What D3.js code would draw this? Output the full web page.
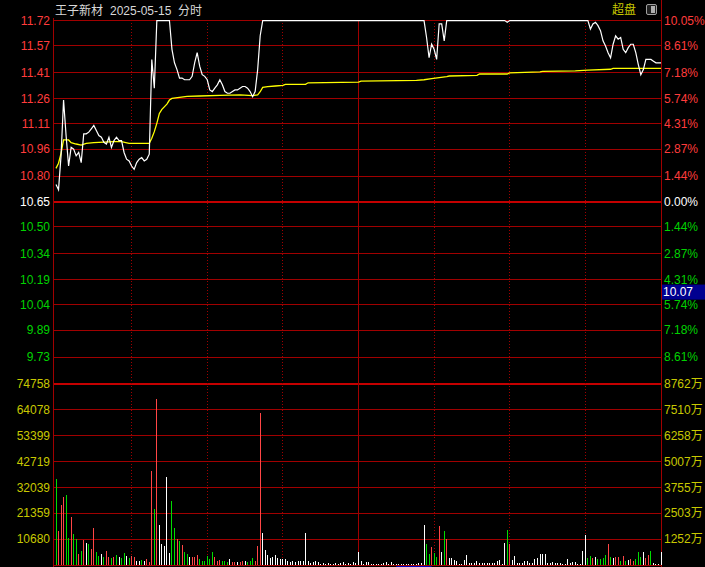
<!DOCTYPE html>
<html><head><meta charset="utf-8">
<script src="https://cdn.jsdelivr.net/npm/d3@7/dist/d3.min.js"></script>
<style>html,body{margin:0;padding:0;background:#000;overflow:hidden}</style>
</head><body><svg id="c" width="705" height="567"></svg>
<script>
// ---------- data ----------
const stockName = "王子新材";
const dateText = "2025-05-15";
const modeText = "分时";
const panelText = "超盘";
const prevClose = 10.65;
const limitPct = 0.1005;
const priceTicks = [11.72, 11.57, 11.41, 11.26, 11.11, 10.96, 10.80, 10.65, 10.50, 10.34, 10.19, 10.04, 9.89, 9.73];
const pctLabels = ["10.05%", "8.61%", "7.18%", "5.74%", "4.31%", "2.87%", "1.44%", "0.00%", "1.44%", "2.87%", "4.31%", "5.74%", "7.18%", "8.61%"];
const volMax = 74758;
const volTicks = [74758, 64078, 53399, 42719, 32039, 21359, 10680];
const amtLabels = ["8762万", "7510万", "6258万", "5007万", "3755万", "2503万", "1252万"];
const timeGrid = [30, 60, 90, 120, 150, 180, 210];
const cursorPrice = 10.07;

// price: [minute, price]
const pricePoints = [[0,10.75],[1,10.72],[2,10.92],[3,11.25],[4,11.04],[5,10.86],[6,10.97],[7,10.96],[8,10.92],[9,10.94],
[10,10.88],[11,11.05],[12,11.05],[13,11.06],[14,11.08],[15,11.10],[16,11.07],[17,11.04],[18,11.03],[19,11.00],
[20,10.99],[21,11.03],[22,10.97],[23,11.01],[24,11.03],[25,11.01],[26,11.01],[27,10.94],[28,10.90],[29,10.89],
[30,10.86],[31,10.84],[32,10.88],[33,10.90],[34,10.91],[35,10.89],[36,10.90],[37,10.93],[38,11.49],[39,11.32],
[40,11.72],[45,11.72],[46,11.55],[47,11.47],[48,11.43],[49,11.38],[50,11.38],[51,11.37],[52,11.37],[53,11.37],
[54,11.39],[55,11.47],[56,11.53],[57,11.45],[58,11.40],[59,11.39],[60,11.37],[61,11.31],[62,11.30],[63,11.32],
[64,11.34],[65,11.37],[66,11.34],[67,11.30],[68,11.29],[69,11.29],[70,11.30],[71,11.31],[72,11.31],[73,11.32],
[74,11.33],[75,11.33],[76,11.32],[77,11.30],[78,11.27],[79,11.30],[80,11.43],[81,11.63],[82,11.72],
[146,11.72],[147,11.62],[148,11.50],[149,11.58],[150,11.55],[151,11.49],[152,11.70],[153,11.70],[154,11.60],[155,11.72],
[178,11.72],[179,11.71],[180,11.72],[211,11.72],[212,11.67],[213,11.70],[214,11.71],[215,11.69],[216,11.66],[217,11.60],
[218,11.57],[219,11.53],[220,11.50],[221,11.58],[222,11.63],[223,11.61],[224,11.62],[225,11.55],[226,11.53],[227,11.56],
[228,11.58],[229,11.58],[230,11.53],[231,11.46],[232,11.40],[233,11.43],[234,11.49],[235,11.49],[236,11.49],[237,11.48],
[238,11.47],[239,11.47],[240,11.47]];

// average price: [minute, price]
const avgPoints = [[0,10.846],[1,10.876],[2,10.935],[3,11.014],[5,11.014],[6,10.998],[8,10.99],[10,10.984],[12,10.994],[15,10.998],
[23,11.004],[26,11.004],[29,10.994],[37,10.994],[38,11.024],[39,11.063],[40,11.112],[41,11.171],[42,11.195],[44,11.226],
[45,11.25],[46,11.26],[52,11.272],[57,11.274],[65,11.278],[73,11.28],[78,11.276],[80,11.28],[81,11.299],[82,11.325],
[84,11.329],[87,11.333],[90,11.337],[91,11.343],[99,11.343],[100,11.352],[120,11.356],[121,11.362],[143,11.366],[146,11.37],
[149,11.376],[152,11.382],[155,11.388],[156,11.392],[167,11.396],[168,11.404],[179,11.404],[180,11.411],[192,11.416],[193,11.42],
[206,11.423],[211,11.427],[220,11.432],[221,11.437],[240,11.437]];

// per-minute volume
const volumes = [
35400,14000,24700,28100,28800,11000,19900,12800,10600,4500,
5800,10300,9200,8600,6500,15100,5200,3800,4500,3400,
5900,3400,3000,3400,4200,3400,3000,4900,3700,2900,
3800,3400,1600,1700,2100,1500,2600,1400,38800,22900,
68500,16500,8600,7800,36400,5100,26500,15400,10600,9900,
8100,5400,4500,3400,3400,3200,4200,2300,1700,1600,
3600,2500,5400,3400,1700,2000,1600,1600,1400,2500,
1400,1400,1100,1400,1500,1600,1100,1600,3000,1600,
8000,62700,13300,6200,4100,2700,3300,4100,2900,2300,
2300,2300,1600,1400,1600,1400,1600,1600,1700,13300,
1650,700,1400,1650,1100,500,700,300,700,300,
300,700,300,950,1400,300,950,300,1100,700,
5500,1650,500,1250,1250,500,500,500,500,500,
950,1250,300,1100,300,300,300,300,300,300,
300,300,300,300,700,700,16500,8500,4400,7500,
4900,3400,16200,5500,14100,10600,2900,2900,2050,1650,
500,500,2050,4100,950,950,950,1650,950,700,
700,950,700,950,700,1650,2050,300,9200,14400,
8500,2050,3700,950,950,950,1650,1650,700,950,
2500,3000,4500,4500,4500,950,950,1100,700,700,
700,300,300,2500,950,1400,1400,300,300,5800,
12400,3000,3700,3000,3400,2500,2500,2900,4100,8600,
3400,2900,3400,3400,1650,3700,1650,2050,2500,1650,
2500,5400,3400,5400,3000,4100,5900,700,300,300,
5400];
// r = up, g = down, w = unchanged
const volColors = (
"grrrggrggr" + "grwgrrggwg" + "rrgrgwggwg" + "rrwwgwrrrg" + "rwwwwwggrg" +
"rggwrrrggg" + "gggrrrgggw" + "rrwrrwgggr" + "rrwwwwwwww" + "wwwwwwwwww" +
"wwwwwwwwww" + "wwwwwwwwww" + "wwwwwwwwww" + "wwwwwwwwww" + "wwwwwwwggr" +
"ggrwgrwwww" + "wwwwwwwwww" + "wwwwwwwwwg" + "rwwwwwwwww" + "wwwwwwwwww" +
"wwwwwwwwww" + "wggrwggggr" + "gwrrgrgwrr" + "gggwrrgwww" + "w").split("");

// ---------- drawing ----------
const svg = d3.select("#c");
const L = 53.5, R = 661.5;
const x = d3.scaleLinear().domain([0, 240]).range([56, 661]);
const yP = d3.scaleLinear().domain([prevClose * (1 - limitPct), prevClose * (1 + limitPct)]).range([382.5, 20.5]);
const yV = d3.scaleLinear().domain([0, volMax]).range([565, 383.5]);
const px = v => Math.round(v - 0.5) + 0.5;

const GRID = "#a00000", THICK = "#c40000";
const RED = "#ff3c3c", GREEN = "#00d200", YEL = "#c8c800", WHITE = "#ffffff";
const FONT = "'Liberation Sans', Arial, 'Noto Sans CJK SC', sans-serif";

svg.append("rect").attr("width", 705).attr("height", 567).attr("fill", "#000");

const g = svg.append("g").attr("shape-rendering", "crispEdges");

// horizontal price grid
priceTicks.forEach((t, i) => {
  const yy = px(yP(t));
  const thick = Math.abs(t - prevClose) < 1e-6;
  g.append("line").attr("x1", L).attr("x2", R).attr("y1", thick ? Math.round(yP(t)) : yy).attr("y2", thick ? Math.round(yP(t)) : yy)
    .attr("stroke", thick ? THICK : GRID).attr("stroke-width", thick ? 2 : 1);
});
// horizontal volume grid
volTicks.forEach((t, i) => {
  const thick = i === 0;
  const yy = thick ? Math.round(yV(t)) : px(yV(t));
  g.append("line").attr("x1", L).attr("x2", R).attr("y1", yy).attr("y2", yy)
    .attr("stroke", thick ? THICK : GRID).attr("stroke-width", thick ? 2 : 1);
});
// bottom line
g.append("line").attr("x1", L).attr("x2", R).attr("y1", 565.5).attr("y2", 565.5).attr("stroke", GRID);

// vertical time grid
timeGrid.forEach(m => {
  const xx = px(x(m));
  g.append("line").attr("x1", xx).attr("x2", xx).attr("y1", 20).attr("y2", 566)
    .attr("stroke", GRID).attr("stroke-dasharray", m === 120 ? null : "1,2");
});
// borders
g.append("line").attr("x1", L).attr("x2", L).attr("y1", 18).attr("y2", 567).attr("stroke", GRID);
g.append("line").attr("x1", R).attr("x2", R).attr("y1", 0).attr("y2", 567).attr("stroke", GRID);

// volume bars
const colMap = { r: "#ff4646", g: "#00dc00", w: "#ffffff" };
svg.append("g").attr("shape-rendering", "crispEdges").selectAll("line").data(volumes).join("line")
  .attr("x1", (d, i) => px(x(i))).attr("x2", (d, i) => px(x(i)))
  .attr("y1", yV(0)).attr("y2", d => yV(d))
  .attr("stroke", (d, i) => colMap[volColors[i]]).attr("stroke-width", 1);

// avg line
svg.append("path").datum(avgPoints)
  .attr("d", d3.line().x(d => x(d[0])).y(d => yP(d[1])))
  .attr("fill", "none").attr("stroke", "#ffff00").attr("stroke-width", 1.3);

// price line
svg.append("path").datum(pricePoints)
  .attr("d", d3.line().x(d => x(d[0])).y(d => Math.max(yP(d[1]), 20.5)))
  .attr("fill", "none").attr("stroke", WHITE).attr("stroke-width", 1.2);

// left axis labels
const tl = svg.append("g").attr("font-family", FONT).attr("font-size", 12);
priceTicks.forEach((t, i) => {
  const c = t > prevClose + 1e-6 ? RED : (t < prevClose - 1e-6 ? GREEN : WHITE);
  tl.append("text").attr("x", 50).attr("y", yP(t)).attr("dy", "0.36em").attr("text-anchor", "end")
    .attr("fill", c).text(t.toFixed(2));
  tl.append("text").attr("x", 664).attr("y", yP(t)).attr("dy", "0.36em").attr("text-anchor", "start")
    .attr("fill", c).text(pctLabels[i]);
});
volTicks.forEach((t, i) => {
  tl.append("text").attr("x", 50).attr("y", yV(t)).attr("dy", "0.36em").attr("text-anchor", "end")
    .attr("fill", YEL).text(t);
  tl.append("text").attr("x", 664).attr("y", yV(t)).attr("dy", "0.36em").attr("text-anchor", "start")
    .attr("fill", YEL).text(amtLabels[i]);
});

// title
const tt = svg.append("text").attr("x", 55).attr("y", 15).attr("font-family", FONT).attr("font-size", 12).attr("fill", "#d8d8d8");
tt.append("tspan").text(stockName);
tt.append("tspan").attr("x", 110).text(dateText);
tt.append("tspan").attr("x", 178).text(modeText);

svg.append("text").attr("x", 612).attr("y", 14).attr("font-family", "'Noto Sans CJK SC', sans-serif").attr("font-size", 12)
  .attr("fill", YEL).text(panelText);
// small toggle icon
svg.append("rect").attr("x", 646.5).attr("y", 4.5).attr("width", 10).attr("height", 10).attr("rx", 1.5)
  .attr("fill", "#202020").attr("stroke", "#a0a0a0");
svg.append("rect").attr("x", 651).attr("y", 6).attr("width", 4).attr("height", 7).attr("fill", "#b0b0b0");

// cursor price box
const cy = yP(cursorPrice);
svg.append("rect").attr("x", 662).attr("y", cy - 15).attr("width", 43).attr("height", 15).attr("fill", "#000090");
svg.append("text").attr("x", 663).attr("y", cy - 7.5).attr("dy", "0.36em").attr("font-family", FONT).attr("font-size", 12)
  .attr("fill", WHITE).text(cursorPrice.toFixed(2));

// scrollbar marker at bottom
svg.append("rect").attr("x", x(135)).attr("y", 566).attr("width", x(149) - x(135)).attr("height", 1).attr("fill", "#0000c0");
</script>
</body></html>
